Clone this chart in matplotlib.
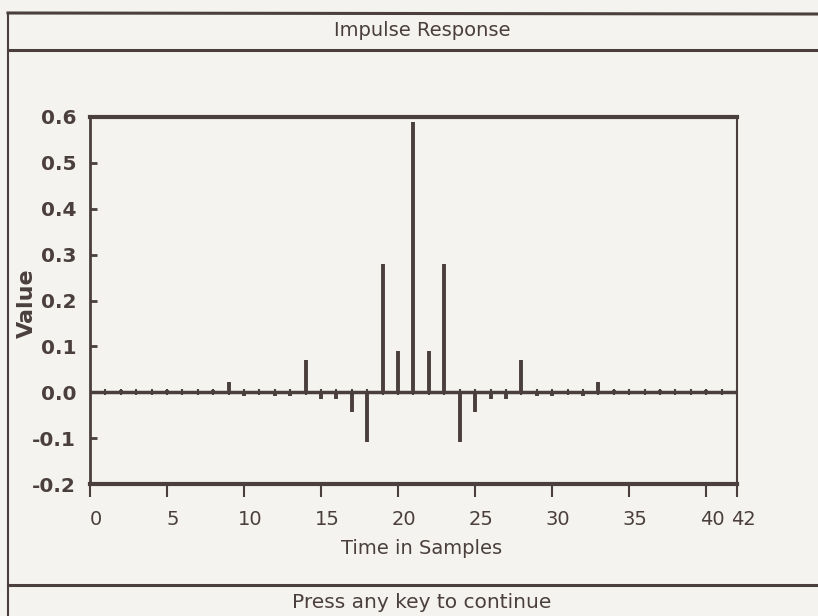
import numpy as np
import matplotlib.pyplot as plt
from matplotlib.lines import Line2D
import matplotlib.transforms as mtransforms

# impulse response, one value per sample
samples = list(range(43))
values = [0.001, 0.001, 0.005, 0.001, 0.001, 0.005, 0.001, 0.001, 0.005, 0.022,
          -0.008, 0.001, -0.008, -0.008, 0.070, -0.015, -0.015, -0.044, -0.108, 0.279,
          0.090, 0.590, 0.090, 0.279, -0.108, -0.044, -0.015, -0.015, 0.070, -0.008,
          -0.008, 0.001, -0.008, 0.022, 0.005, 0.001, 0.001, 0.005, 0.001, 0.001,
          0.005, 0.001, 0.001]
x_ticks = [0, 5, 10, 15, 20, 25, 30, 35, 40, 42]
y_ticks = [-0.2, -0.1, 0.0, 0.1, 0.2, 0.3, 0.4, 0.5, 0.6]

BG = '#f5f3ef'
INK = '#4a3f3c'
FONT = 'DejaVu Sans'

W, H = 818, 616


def fx(px):
    return px / W


def fy(py):
    return 1 - py / H


fig = plt.figure(figsize=(8.18, 6.16), dpi=100)
fig.patch.set_facecolor(BG)

ax = fig.add_axes([fx(90), fy(484), fx(737) - fx(90), fy(117) - fy(484)])
ax.set_facecolor(BG)

# baseline and stems
ax.axhline(0, color=INK, lw=2.5, zorder=2)
ax.vlines(samples, 0, values, color=INK, lw=2.8, zorder=3)
ax.plot(samples, np.zeros(len(samples)), '|', color=INK, ms=4, mew=1.5, zorder=3)

ax.set_xlim(0, 42)
ax.set_ylim(-0.2, 0.6)
ax.set_xticks(x_ticks)
ax.set_xticklabels([str(t) for t in x_ticks], family=FONT, fontsize=14, color=INK)
ax.set_yticks(y_ticks)
ax.set_yticklabels(['%.1f' % t for t in y_ticks], family=FONT, fontweight='bold',
                   fontsize=14.5, color=INK)

ax.tick_params(axis='x', direction='out', length=9, width=1.5, pad=10, color=INK)
ax.tick_params(axis='y', direction='in', length=5, width=2, pad=10, color=INK)

# shift x labels a bit right like the original screen font
offset = mtransforms.ScaledTranslation(6 / 100, 0, fig.dpi_scale_trans)
for lab in ax.get_xticklabels():
    lab.set_transform(lab.get_transform() + offset)

for side, lw in [('top', 3), ('bottom', 3), ('left', 2), ('right', 1.5)]:
    ax.spines[side].set_linewidth(lw)
    ax.spines[side].set_color(INK)

# screen frame
fig.add_artist(Line2D([fx(8), 1], [fy(13), fy(14)], lw=2.2, color=INK))
fig.add_artist(Line2D([fx(8), 1], [fy(50), fy(50)], lw=2.2, color=INK))
fig.add_artist(Line2D([fx(8), 1], [fy(585), fy(585)], lw=2.2, color=INK))
fig.add_artist(Line2D([fx(8), fx(8)], [fy(13), 0], lw=1.5, color=INK))

fig.text(fx(422), fy(30), 'Impulse Response', ha='center', va='center',
         family=FONT, fontsize=14, color=INK)
fig.text(fx(422), fy(548), 'Time in Samples', ha='center', va='center',
         family=FONT, fontsize=14, color=INK)
fig.text(fx(422), fy(603), 'Press any key to continue', ha='center', va='center',
         family=FONT, fontsize=14.5, color=INK)
fig.text(fx(27), fy(303), 'Value', rotation=90, ha='center', va='center',
         family=FONT, fontweight='bold', fontsize=16, color=INK)

fig.savefig('out.png', dpi=100, facecolor=BG)
